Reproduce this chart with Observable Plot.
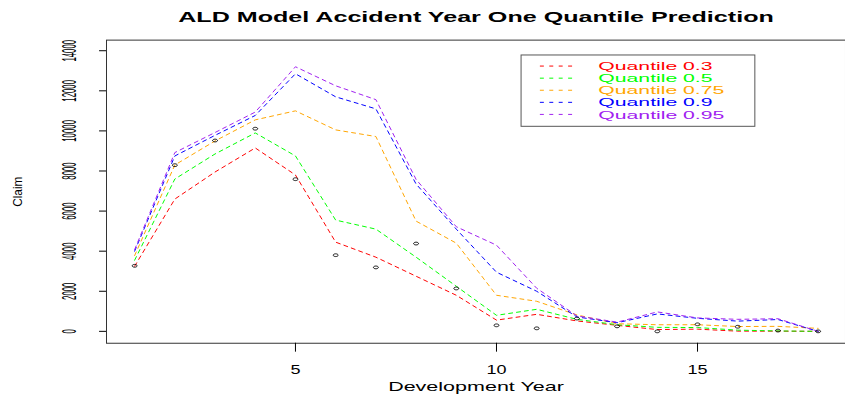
<!DOCTYPE html>
<html>
<head>
<meta charset="utf-8">
<script src="https://cdn.jsdelivr.net/npm/d3@7"></script>
<script src="https://cdn.jsdelivr.net/npm/@observablehq/plot@0.6"></script>
<style>
  html, body { margin: 0; padding: 0; background: #fff; overflow: hidden; }
  #chart { width: 845px; height: 394px; overflow: hidden; position: relative; }
</style>
</head>
<body>
<div id="chart"></div>
<script>
// Development years and the observed claims for accident year one
const devYear = [1, 2, 3, 4, 5, 6, 7, 8, 9, 10, 11, 12, 13, 14, 15, 16, 17, 18];
const observed = [3270, 8290, 9520, 10110, 7590, 3800, 3190, 4380, 2140, 300, 150, 640, 250, 0, 350, 230, 40, 0];

// Predicted quantiles from the ALD model
const q30 = [3250, 6600, 7950, 9150, 7800, 4450, 3700, 2750, 1800, 560, 850, 520, 300, 90, 110, 10, 10, 0];
const q50 = [3550, 7600, 8850, 9900, 8750, 5550, 5100, 3700, 2250, 800, 1100, 600, 330, 200, 190, 60, 20, 0];
const q75 = [3780, 8300, 9500, 10550, 11000, 10050, 9720, 5500, 4400, 1800, 1500, 820, 380, 330, 330, 240, 250, 150];
const q90 = [4000, 8750, 9780, 10770, 12850, 11700, 11100, 7350, 5100, 2950, 2000, 720, 430, 870, 650, 510, 590, 0];
const q95 = [4080, 8920, 9920, 10940, 13200, 12250, 11560, 7580, 5220, 4300, 2150, 770, 460, 970, 670, 600, 630, 0];

const seriesNames = ["Quantile 0.3", "Quantile 0.5", "Quantile 0.75", "Quantile 0.9", "Quantile 0.95"];
const seriesColors = ["#FF0000", "#00FF00", "#FFA500", "#0000FF", "#A020F0"];
const quantiles = [q30, q50, q75, q90, q95];

const yTicks = [0, 2000, 4000, 6000, 8000, 10000, 12000, 14000];
const xTicks = [5, 10, 15];

const titleText = "ALD Model Accident Year One Quantile Prediction";
const xLabel = "Development Year";
const yLabel = "Claim";

const FONT = "'Liberation Sans', Arial, Helvetica, sans-serif";

const rows = seriesNames.flatMap((name, k) =>
  devYear.map((x, i) => ({x, y: quantiles[k][i], series: name}))
);
const points = devYear.map((x, i) => ({x, y: observed[i]}));

// Open flattened ring used for the observed points
const ring = {
  draw(context, size) {
    const r = Math.sqrt(size / Math.PI);
    const a = 1.25 * r, b = 0.7 * r, k = 0.5523;
    context.moveTo(a, 0);
    context.bezierCurveTo(a, k * b, k * a, b, 0, b);
    context.bezierCurveTo(-k * a, b, -a, k * b, -a, 0);
    context.bezierCurveTo(-a, -k * b, -k * a, -b, 0, -b);
    context.bezierCurveTo(k * a, -b, a, -k * b, a, 0);
    context.closePath();
  }
};

const chart = Plot.plot({
  width: 853,
  height: 394,
  marginLeft: 107,
  marginRight: 0,
  marginTop: 40,
  marginBottom: 48,
  style: {fontFamily: FONT, background: "white", overflow: "visible", color: "black"},
  x: {domain: [0.30, 18.68]},
  y: {domain: [-593, 14529]},
  color: {domain: seriesNames, range: seriesColors},
  marks: [
    Plot.line(rows, {x: "x", y: "y", z: "series", stroke: "series", strokeWidth: 1, strokeDasharray: "4,4"}),
    Plot.dot(points, {x: "x", y: "y", symbol: ring, r: 2, stroke: "black", strokeWidth: 0.9, fill: "none"}),
    Plot.frame({stroke: "#333"}),
    Plot.axisY(yTicks, {tickSize: 7, fill: "none", label: null}),
    Plot.axisX(xTicks, {tickSize: 9, fill: "none", label: null}),
    // text marks, in this order: y ticks, x ticks, y label, x label, title
    Plot.text(yTicks, {y: d => d, text: d => `${d}`, frameAnchor: "left", dx: -37, rotate: -90,
      fontSize: 11, textAnchor: "middle", lineAnchor: "middle"}),
    Plot.text(xTicks, {x: d => d, text: d => `${d}`, frameAnchor: "bottom", dy: 27,
      fontSize: 13, textAnchor: "middle", lineAnchor: "middle"}),
    Plot.text([yLabel], {text: d => d, frameAnchor: "left", dx: -90, rotate: -90,
      fontSize: 12, textAnchor: "middle", lineAnchor: "middle"}),
    Plot.text([xLabel], {text: d => d, frameAnchor: "bottom", dy: 44,
      fontSize: 13, textAnchor: "middle", lineAnchor: "middle"}),
    Plot.text([titleText], {text: d => d, frameAnchor: "top", dy: -23,
      fontSize: 15, fontWeight: "bold", textAnchor: "middle", lineAnchor: "middle"})
  ]
});

const svg = d3.select(chart);

// Wide lettering along the horizontal texts, condensed rotated tick labels
function reshape(group, sx, sy) {
  d3.select(group).selectAll("text").each(function () {
    const t = this.getAttribute("transform") || "";
    this.setAttribute("transform", `${t} scale(${sx},${sy})`);
  });
}
const textGroups = svg.selectAll(':scope > g[aria-label="text"]').nodes();
const shapes = [[0.72, 1.9], [1.4, 1], [1, 1.1], [1.67, 1], [1.69, 1]];
textGroups.forEach((g, i) => { if (shapes[i]) reshape(g, ...shapes[i]); });

// Legend box in the upper right of the panel
const legend = svg.append("g").attr("aria-label", "legend")
  .attr("font-family", FONT).attr("text-anchor", "start");
legend.append("rect")
  .attr("x", 526).attr("y", 55.5).attr("width", 236).attr("height", 72)
  .attr("fill", "white").attr("stroke", "#555").attr("stroke-width", 1);
seriesNames.forEach((name, k) => {
  const yy = 66.7 + k * 12.2;
  legend.append("line")
    .attr("x1", 545).attr("x2", 582).attr("y1", yy).attr("y2", yy)
    .attr("stroke", seriesColors[k]).attr("stroke-width", 1).attr("stroke-dasharray", "4,5.5");
  legend.append("text")
    .attr("transform", `translate(604,${yy}) scale(1.86,1)`)
    .attr("dy", "0.36em").attr("font-size", 11.5).attr("text-anchor", "start")
    .attr("fill", seriesColors[k]).text(name);
});

document.getElementById("chart").append(chart);
</script>
</body>
</html>
